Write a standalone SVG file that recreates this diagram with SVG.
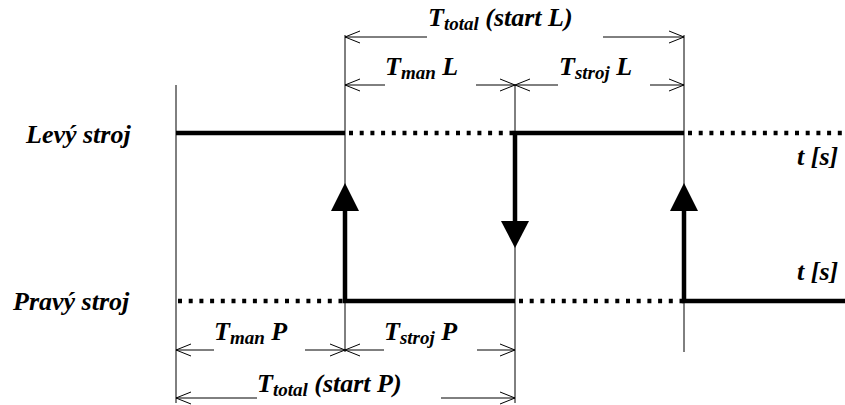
<svg xmlns="http://www.w3.org/2000/svg" width="845" height="405" viewBox="0 0 845 405">
<style>
text{font-family:"Liberation Serif","Times New Roman",serif;font-weight:bold;font-style:italic;font-size:26px;fill:#000}
.sub{font-size:19px}
.thin{stroke:#000;stroke-width:1;fill:none}
.thick{stroke:#000;stroke-width:4.5;fill:none}
.dot{stroke:#000;stroke-width:4.5;fill:none;stroke-dasharray:4 6.7}
.dim{stroke:#000;stroke-width:1;fill:none}
.dim-s{marker-start:url(#open)}
.dim-e{marker-end:url(#open)}
</style>
<defs>
<marker id="open" viewBox="-16 -8 18 16" markerWidth="18" markerHeight="16" refX="0" refY="0" markerUnits="userSpaceOnUse" orient="auto-start-reverse" overflow="visible">
<path d="M-15,-6 L0,0 L-15,6" fill="none" stroke="#000" stroke-width="1"/>
</marker>
</defs>
<rect width="845" height="405" fill="#fff"/>
<g id="guides">
<line class="thin" x1="176" y1="85" x2="176" y2="403"/>
<line class="thin" x1="345" y1="35" x2="345" y2="352"/>
<line class="thin" x1="515" y1="85" x2="515" y2="403"/>
<line class="thin" x1="684" y1="35" x2="684" y2="352"/>
</g>
<g id="levy">
<text x="26" y="143">Levý stroj</text>
<path class="thick" d="M176,133 H345"/>
<path class="dot" d="M349,133 H515"/>
<path class="thick" d="M515,222 V133 H684"/>
<path class="dot" d="M688,133 H845"/>
<text x="797" y="165">t [s]</text>
</g>
<g id="pravy">
<text x="13" y="310">Pravý stroj</text>
<path class="dot" d="M178,301 H345"/>
<path class="thick" d="M345,211 V301 H515"/>
<path class="dot" d="M519,301 H684"/>
<path class="thick" d="M684,211 V301 H845"/>
<text x="797" y="280">t [s]</text>
</g>
<g id="connectors">
<polygon points="331,211 359,211 345,183" fill="#000"/>
<polygon points="501,221 529,221 515,248" fill="#000"/>
<polygon points="670,211 698,211 684,183" fill="#000"/>
<line class="dim dim-s" x1="345" y1="37" x2="427" y2="37"/>
<line class="dim dim-e" x1="603" y1="37" x2="684" y2="37"/>
<line class="dim dim-s" x1="345" y1="85" x2="385" y2="85"/>
<line class="dim dim-e" x1="476" y1="85" x2="515" y2="85"/>
<line class="dim dim-s" x1="515" y1="85" x2="558" y2="85"/>
<line class="dim dim-e" x1="650" y1="85" x2="684" y2="85"/>
<line class="dim dim-s" x1="176" y1="350" x2="214" y2="350"/>
<line class="dim dim-e" x1="305" y1="350" x2="345" y2="350"/>
<line class="dim dim-s" x1="345" y1="350" x2="384" y2="350"/>
<line class="dim dim-e" x1="477" y1="350" x2="515" y2="350"/>
<line class="dim dim-s" x1="176" y1="398" x2="257" y2="398"/>
<line class="dim dim-e" x1="441" y1="398" x2="515" y2="398"/>
</g>
<g id="labels">
<text id="ttotal-l" x="428" y="26">T<tspan class="sub" dy="4">total</tspan><tspan dy="-4"> (start L)</tspan></text>
<text id="tman-l" x="385" y="75">T<tspan class="sub" dy="4">man</tspan><tspan dy="-4"> L</tspan></text>
<text id="tstroj-l" x="559" y="75">T<tspan class="sub" dy="4">stroj</tspan><tspan dy="-4"> L</tspan></text>
<text id="tman-p" x="214" y="340">T<tspan class="sub" dy="4">man</tspan><tspan dy="-4"> P</tspan></text>
<text id="tstroj-p" x="384" y="340">T<tspan class="sub" dy="4">stroj</tspan><tspan dy="-4"> P</tspan></text>
<text id="ttotal-p" x="257" y="392">T<tspan class="sub" dy="4">total</tspan><tspan dy="-4"> (start P)</tspan></text>
</g>
</svg>
